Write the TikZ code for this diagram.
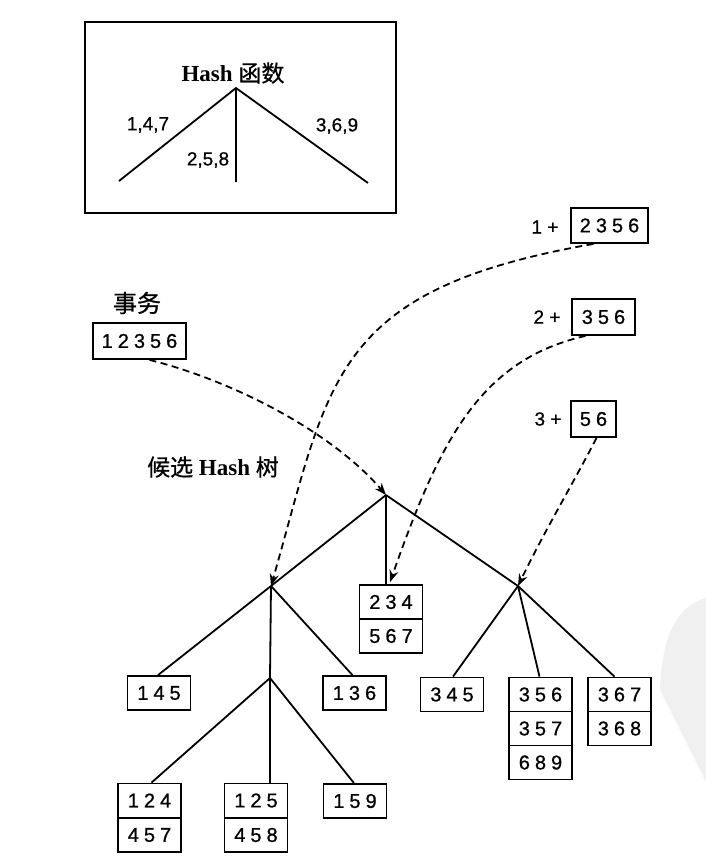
\documentclass[tikz,border=0pt]{standalone}
\usepackage{fontspec}
\setmainfont{Liberation Serif}
\newfontfamily\dig[LetterSpace=25,FakeBold=0.8]{Liberation Sans}
\newfontfamily\lab[FakeBold=0.6]{Liberation Sans}
\newfontfamily\cjk[FakeBold=0.8]{Noto Sans CJK SC}
\usetikzlibrary{arrows.meta,calc}
\tikzset{
  cell/.style={draw, line width=1.8pt, inner sep=0pt, minimum height=34pt,
    font=\dig\fontsize{20}{22}\selectfont},
  c3/.style={cell, minimum width=63pt},
  edge/.style={line width=1.8pt},
  dasharrow/.style={line width=1.8pt, dash pattern=on 7pt off 4.5pt,
    -{Stealth[length=12pt,width=9pt]}},
  txt/.style={inner sep=0pt, font=\lab\fontsize{19}{22}\selectfont},
  title/.style={inner sep=0pt, font=\bfseries\fontsize{23}{26}\selectfont},
}
\begin{document}
\begin{tikzpicture}[x=1pt,y=-1pt]
\useasboundingbox (0,0) rectangle (706,868);
% scan blob
\fill[black!6] (706,598) .. controls (680,605) and (662,630) .. (660,690)
  -- (706,782) -- cycle;

% Hash function box
\node[draw, line width=1.8pt, minimum width=311pt, minimum height=191pt, inner sep=0pt]
  (hbox) at (240.5,117.5) {};
\node[title] (htitle) at (233,73) {Hash {\cjk\mdseries 函数}};
\coordinate (happ) at (236,88);
\coordinate (hl) at (119,181);
\coordinate (hm) at (236,182);
\coordinate (hr) at (368,183);
\draw[edge] (hl) -- (happ) -- (hr);
\draw[line width=1.1pt] (happ) -- (hm);
\node[txt] (l147) at (148,125) {1,4,7};
\node[txt] (l258) at (208,160) {2,5,8};
\node[txt] (l369) at (337,126) {3,6,9};

% transaction
\node[inner sep=0pt, font=\cjk\fontsize{24}{26}\selectfont] (sw) at (137,303) {事务};
\node[cell, minimum width=93pt, minimum height=36pt] (t12356) at (139.5,341) {12356};
\node[inner sep=0pt, font=\fontsize{23}{26}\selectfont] (tree) at (213,467)
  {{\cjk 候选} \textbf{Hash} {\cjk 树}};

% prefixes
\node[txt] (p1) at (545,227) {1 +};
\node[cell, minimum width=77pt, minimum height=35pt] (s2356) at (609.5,225.5) {2356};
\node[txt] (p2) at (547,317) {2 +};
\node[cell, minimum width=63pt, minimum height=36pt] (s356) at (603.5,317) {356};
\node[txt] (p3) at (548,419) {3 +};
\node[cell, minimum width=45pt, minimum height=36pt] (s56) at (593.5,419) {56};

% tree interior points
\coordinate (root) at (386,495);
\coordinate (lc) at (271,586);
\coordinate (rc) at (518,586);
\coordinate (gc) at (270,678);

% leaves
\node[c3] (b234) at (391,602) {234};
\node[c3] (b567) at (391,636) {567};
\node[c3] (b145) at (159,693) {145};
\node[c3] (b136) at (354.5,693) {136};
\node[c3] (b345) at (452,694.5) {345};
\node[c3] (b356) at (540.5,694.5) {356};
\node[c3] (b357) at (540.5,728.5) {357};
\node[c3] (b689) at (540.5,762.5) {689};
\node[c3] (b367) at (619.5,694.5) {367};
\node[c3] (b368) at (619.5,728.5) {368};
\node[c3] (b124) at (149.5,800.5) {124};
\node[c3] (b457) at (149.5,835) {457};
\node[c3] (b125) at (256,800.5) {125};
\node[c3] (b458) at (256,835) {458};
\node[c3] (b159) at (355,801) {159};

% tree edges
\draw[edge] (root) -- (lc);
\draw[edge] (root) -- (root |- b234.north);
\draw[edge] (root) -- (rc);
\draw[edge] (lc) -- ($(b145.north)+(-1,0)$);
\draw[edge] (lc) -- (gc);
\draw[edge] (lc) -- ($(b136.north)+(-2,0)$);
\draw[edge] (gc) -- ($(b124.north)+(2,0)$);
\draw[edge] (gc) -- (gc |- b125.north);
\draw[edge] (gc) -- ($(b159.north)+(-1,0)$);
\draw[edge] (rc) -- ($(b345.north)+(1,0)$);
\draw[edge] (rc) -- ($(b356.north)+(-1,0)$);
\draw[edge] (rc) -- ($(b367.north)+(-5,0)$);

% dashed arrows
\draw[dasharrow] ($(t12356.south)+(10,0)$) .. controls (230,380) and (330,430) .. (root);
\draw[dasharrow] ($(s2356.south)+(-16,0)$) .. controls (330,290) and (330,380) .. (lc);
\draw[dasharrow] ($(s356.south)+(-18,0)$) .. controls (480,360) and (440,440) .. ($(b234.north)+(-1,-2)$);
\draw[dasharrow] ($(s56.south)+(3,0)$) .. controls (575,480) and (545,530) .. (rc);
\end{tikzpicture}
\end{document}
